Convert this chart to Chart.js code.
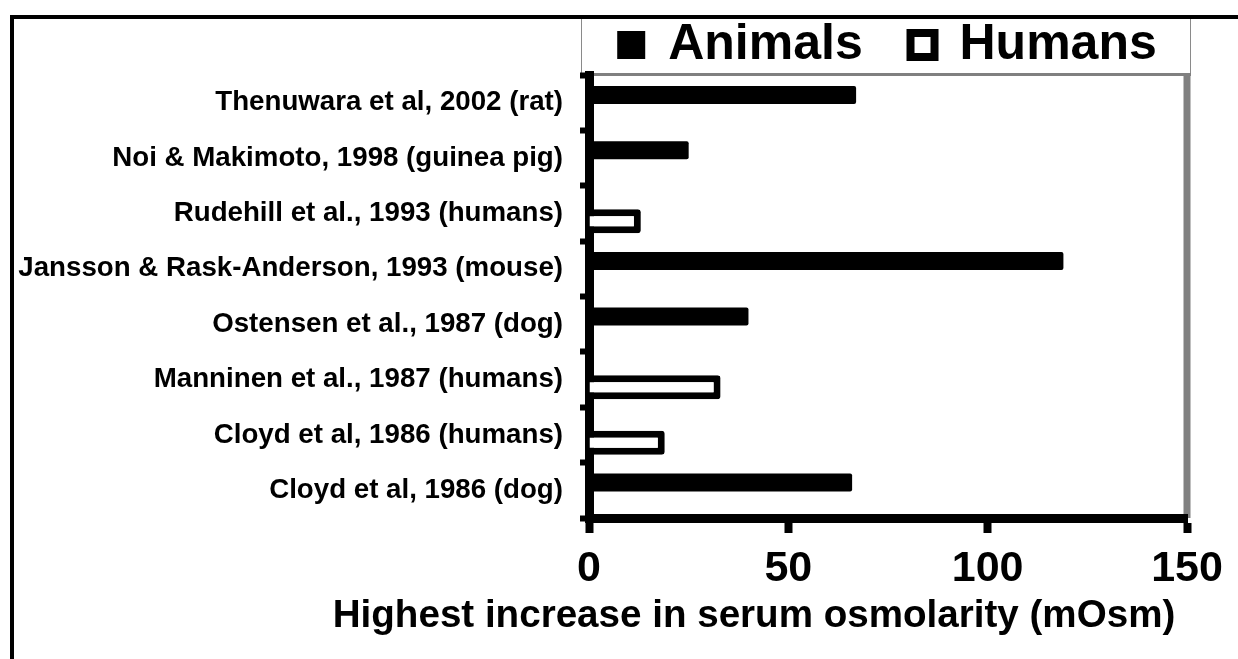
<!DOCTYPE html>
<html>
<head>
<meta charset="utf-8">
<script src="https://cdn.jsdelivr.net/npm/chart.js@4.4.1/dist/chart.umd.min.js"></script>
<style>
  html, body { margin: 0; padding: 0; background: #ffffff; overflow: hidden; }
  #wrap { position: relative; width: 1238px; height: 659px; }
  canvas { display: block; }
</style>
</head>
<body>
<div id="wrap"><canvas id="chart" width="1238" height="659"></canvas></div>
<script>
// ---- data ----
const categories = [
  'Thenuwara et al, 2002 (rat)',
  'Noi & Makimoto, 1998 (guinea pig)',
  'Rudehill et al., 1993 (humans)',
  'Jansson & Rask-Anderson, 1993 (mouse)',
  'Ostensen et al., 1987 (dog)',
  'Manninen et al., 1987 (humans)',
  'Cloyd et al, 1986 (humans)',
  'Cloyd et al, 1986 (dog)'
];
const animalValues = [67, 25, null, 119, 40, null, null, 66];
const humanValues  = [null, null, 13, null, null, 33, 19, null];
const seriesNames  = ['Animals', 'Humans'];
const xTicks       = [0, 50, 100, 150];
const xAxisTitle   = 'Highest increase in serum osmolarity (mOsm)';

const FONT = '"Liberation Sans", Arial, Helvetica, sans-serif';
Chart.defaults.font.family = FONT;
Chart.defaults.color = '#000';

// decorations: outer frame, legend frame, plot-area grey border, axis title
const decor = {
  id: 'decor',
  beforeDraw(chart) {
    const ctx = chart.ctx;
    const a = chart.chartArea;
    ctx.save();
    ctx.fillStyle = '#fff';
    ctx.fillRect(0, 0, chart.width, chart.height);
    // legend frame
    ctx.strokeStyle = '#8a8a8a';
    ctx.lineWidth = 1;
    ctx.strokeRect(581.5, 17.5, 609, 56);
    // plot area top border
    ctx.fillStyle = '#808080';
    ctx.fillRect(a.left - 8, a.top - 2, a.right - a.left + 12, 3);
    // plot area right border
    ctx.fillRect(a.right - 3.5, a.top - 1, 7, a.bottom - a.top + 1);
    ctx.restore();
  },
  afterDraw(chart, args, opts) {
    const ctx = chart.ctx;
    ctx.save();
    // axis title
    ctx.fillStyle = '#000';
    ctx.font = 'bold 38.6px ' + FONT;
    ctx.textAlign = 'center';
    ctx.textBaseline = 'alphabetic';
    ctx.fillText(opts.text, 754, 627);
    // outer frame (top and left)
    ctx.fillStyle = '#000';
    ctx.fillRect(10, 15, chart.width - 10, 4);
    ctx.fillRect(10, 15, 4, chart.height - 15);
    ctx.restore();
  }
};

new Chart(document.getElementById('chart'), {
  type: 'bar',
  data: {
    labels: categories,
    datasets: [
      {
        label: seriesNames[0],
        data: animalValues,
        backgroundColor: '#000',
        borderColor: '#000',
        borderWidth: 0,
        borderRadius: 2,
        borderSkipped: 'start',
        categoryPercentage: 0.556,
        barPercentage: 1.17
      },
      {
        label: seriesNames[1],
        data: humanValues,
        backgroundColor: '#fff',
        borderColor: '#000',
        borderWidth: 7,
        borderRadius: 3,
        borderSkipped: 'start',
        categoryPercentage: 0.556,
        barPercentage: 1.56
      }
    ]
  },
  options: {
    indexAxis: 'y',
    responsive: false,
    animation: false,
    devicePixelRatio: 1,
    layout: { padding: { left: 0, top: 0, right: 51, bottom: 0 } },
    plugins: {
      tooltip: { enabled: false },
      decor: { text: xAxisTitle },
      legend: {
        display: true,
        position: 'top',
        fullSize: false,
        maxHeight: 75,
        labels: {
          color: '#000',
          font: { size: 50, weight: 'bold' },
          boxWidth: 24,
          boxHeight: 24,
          padding: 20,
          generateLabels: (chart) => chart.data.datasets.map((ds, i) => ({
            text: i === 0 ? ds.label + '\u00a0\u00a0' : ds.label,
            fillStyle: ds.backgroundColor,
            strokeStyle: '#000',
            lineWidth: i === 0 ? 4 : 8,
            hidden: false,
            datasetIndex: i,
            fontColor: '#000'
          }))
        }
      }
    },
    scales: {
      x: {
        type: 'linear',
        position: 'bottom',
        min: 0,
        max: 150,
        afterBuildTicks: (s) => { s.ticks = xTicks.map(v => ({ value: v })); },
        afterFit: (s) => { s.height = 141; s.paddingLeft = 0; s.paddingRight = 0; },
        border: { display: true, color: '#000', width: 9 },
        grid: { drawOnChartArea: false, drawTicks: true, tickLength: 15, tickWidth: 8, tickColor: '#000', color: '#000' },
        ticks: { color: '#000', font: { size: 43, weight: 'bold' }, padding: 10, maxRotation: 0, autoSkip: false },
        title: { display: false }
      },
      y: {
        type: 'category',
        position: 'left',
        offset: true,
        afterFit: (s) => { s.width = 589; s.paddingTop = 0; s.paddingBottom = 0; },
        border: { display: true, color: '#000', width: 9 },
        grid: { offset: true, drawOnChartArea: false, drawTicks: true, tickLength: 9, tickWidth: 6, tickColor: '#000', color: '#000' },
        ticks: { color: '#000', font: { size: 27.7, weight: 'bold' }, padding: 17, autoSkip: false }
      }
    }
  },
  plugins: [decor]
});
</script>
</body>
</html>
